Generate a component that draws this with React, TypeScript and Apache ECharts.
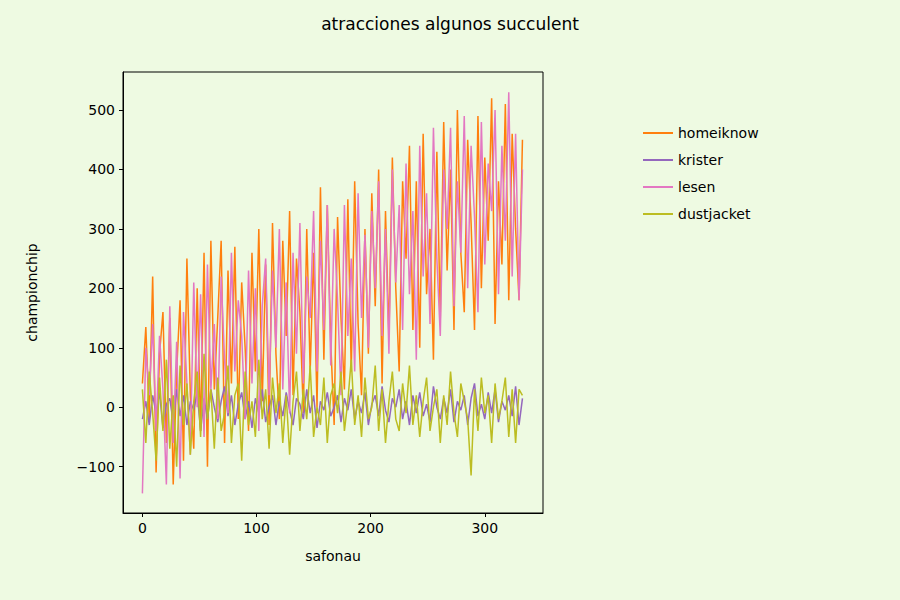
import { useEffect, useRef } from 'react';
import * as echarts from 'echarts';

const homeiknow = [
  40, 135, -20, 220, -110, 90, 160, -60, 150, -130, 60,
  180, -90, 250, 20, -70, 200, -40, 260, -100, 280, 30,
  150, 280, -60, 230, 40, 270, -20, 210, 100, -40, 260,
  60, 300, 10, 240, -30, 310, 90, -20, 280, 120, 330,
  20, 250, 160, -10, 300, 60, 260, 0, 370, 80, 340,
  110, -30, 320, 150, 30, 350, 60, 380, 140, 20, 300,
  90, 360, 170, 400, 40, 330, 120, 420, 200, 60, 380,
  250, 440, 130, 380, 100, 460, 190, 300, 80, 430, 150,
  480, 230, 400, 130, 500, 260, 160, 450, 310, 130, 490,
  200, 420, 280, 520, 140, 380, 240, 510, 180, 460, 300,
  180, 450,
];
const krister = [
  -20, 10, -30, 20, -10, 25, -35, 5, 15, -25, 30,
  -15, 20, -30, 10, -5, 25, -40, 15, -20, 30, 0,
  -25, 10, 35, -15, 20, -30, 5, 25, -20, 10, -35,
  15, -10, 30, -25, 0, 20, -30, 10, -15, 25, -5,
  -30, 15, 5, -20, 30, -10, 20, -35, 10, -5, 25,
  -15, 0, 20, -25, 15, -5, 30, -20, 10, -10, 25,
  -30, 5, 20, -15, 35, -5, -25, 15, 0, 30, -20,
  10, -30, 20, -10, 25, -15, 5, -25, 35, 0, -20,
  15, -10, 30, -25, 10, -5, 20, -30, 15, 40, -15,
  5, -20, 25, -10, 30, -25, 10, -5, 20, -15, 35,
  -30, 15,
];
const lesen = [
  -145, 100, 20, 140, -40, 120, 30, -130, 170, -60, 110,
  -120, 160, 40, -80, 210, 0, 190, -50, 240, 30, 140,
  -20, 220, 80, -10, 260, 60, 180, 120, -20, 230, 40,
  200, -40, 170, 250, 20, 230, 100, 300, 30, 210, -10,
  260, 90, 310, 40, 220, 150, 330, 60, 280, 130, 340,
  70, 300, 180, 20, 340, 120, 250, 60, 360, 150, 290,
  100, 330, 200, 380, 120, 300, 90, 400, 210, 340, 130,
  410, 190, 330, 80, 440, 220, 360, 140, 470, 250, 120,
  400, 300, 470, 170, 380, 260, 490, 200, 440, 320, 160,
  480, 240, 410, 330, 500, 190, 440, 280, 530, 220, 460,
  180, 400,
];
const dustjacket = [
  30, -60, 60, -10, -90, 50, -40, 80, -70, 20, -100,
  70, -30, 40, -80, 10, 60, -50, 90, -20, 30, -70,
  50, -40, -10, 70, -60, 20, 40, -90, 60, -30, 10,
  -50, 80, -20, 30, -70, 50, -10, 40, -60, 20, -80,
  10, 60, -40, 30, -20, 70, -50, 0, -30, 50, -60,
  20, 40, -10, 60, -40, 10, 80, -30, 20, -50, 50,
  -20, 0, 70, -40, 30, -60, 10, 60, -20, -40, 40,
  -10, 70, -30, 20, -50, 10, 50, -40, 0, 30, -60,
  20, -30, 60, -10, -50, 40, 10, -20, -115, 30, -40,
  50, -10, 20, -60, 40, -20, 10, 50, -50, 30, -60,
  30, 20,
];
const xStep = 3;
const xTicks = [0, 100, 200, 300];
const yTicks = [-100, 0, 100, 200, 300, 400, 500];

const seriesDefs = [
  { name: 'homeiknow', data: homeiknow, color: '#ff7f0e' },
  { name: 'krister', data: krister, color: '#9467bd' },
  { name: 'lesen', data: lesen, color: '#e377c2' },
  { name: 'dustjacket', data: dustjacket, color: '#bcbd22' },
];

export default function App() {
  const chartRef = useRef<HTMLDivElement>(null);

  useEffect(() => {
    document.body.style.margin = '0';
    if (!chartRef.current) return;
    const chart = echarts.init(chartRef.current, undefined, { renderer: 'svg' });
    const font = 'DejaVu Sans';
    chart.setOption({
      animation: false,
      backgroundColor: '#eefae2',
      textStyle: { fontFamily: font },
      title: {
        text: 'atracciones algunos succulent',
        left: 'center',
        top: 10,
        textStyle: { fontFamily: font, fontSize: 17, fontWeight: 'normal', color: '#000' },
      },
      legend: {
        data: seriesDefs.map((s) => s.name),
        orient: 'vertical',
        left: 638,
        top: 121,
        itemGap: 13,
        itemWidth: 30,
        itemHeight: 2,
        icon: 'rect',
        textStyle: { fontFamily: font, fontSize: 14, color: '#000' },
      },
      grid: {
        left: 123,
        right: 357,
        top: 72,
        bottom: 87,
        show: true,
        borderColor: '#000',
        borderWidth: 1,
        backgroundColor: 'transparent',
      },
      xAxis: {
        type: 'value',
        min: -17,
        max: 351,
        name: 'safonau',
        nameLocation: 'middle',
        nameGap: 36,
        nameTextStyle: { fontSize: 14, color: '#000' },
        splitLine: { show: false },
        axisLine: { show: true, onZero: false, lineStyle: { color: '#000' } },
        axisTick: { show: true, length: 4, customValues: xTicks, lineStyle: { color: '#000' } },
        axisLabel: { customValues: xTicks, color: '#000', fontSize: 14, margin: 8 },
      },
      yAxis: {
        type: 'value',
        min: -178,
        max: 564,
        name: 'championchip',
        nameLocation: 'middle',
        nameGap: 84,
        nameTextStyle: { fontSize: 14, color: '#000' },
        splitLine: { show: false },
        axisLine: { show: true, onZero: false, lineStyle: { color: '#000' } },
        axisTick: { show: true, length: 4, customValues: yTicks, lineStyle: { color: '#000' } },
        axisLabel: {
          customValues: yTicks,
          color: '#000',
          fontSize: 14,
          margin: 8,
          formatter: (v: number) => (v < 0 ? '\u2212' + Math.abs(v) : String(v)),
        },
      },
      series: seriesDefs.map((s) => ({
        name: s.name,
        type: 'line',
        showSymbol: false,
        symbol: 'none',
        color: s.color,
        lineStyle: { width: 1.5, color: s.color },
        data: s.data.map((v, i) => [i * xStep, v]),
      })),
    });
    return () => chart.dispose();
  }, []);

  return <div ref={chartRef} style={{ width: 900, height: 600 }} />;
}
